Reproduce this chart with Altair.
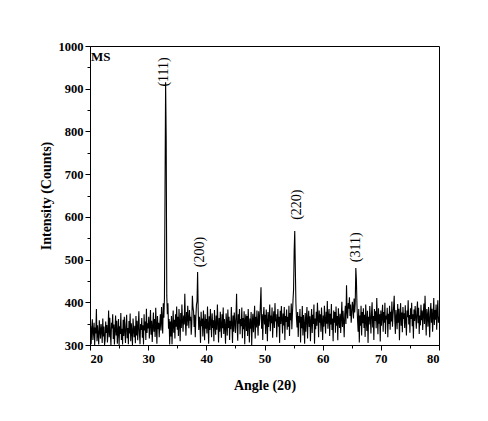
import altair as alt
import numpy as np
import pandas as pd

angle_start = 20.0
angle_step = 0.1

seg_20_30 = [
    318, 345, 302, 338, 360, 312, 331, 352, 300, 341,
    327, 384, 309, 346, 322, 301, 358, 334, 315, 349,
    336, 305, 362, 320, 343, 300, 311, 355, 328, 347,
    306, 333, 381, 318, 364, 325, 300, 352, 339, 372,
    314, 348, 301, 336, 369, 322, 357, 303, 330, 361,
    300, 344, 326, 375, 312, 338, 301, 359, 321, 366,
    333, 305, 348, 371, 316, 340, 302, 356, 327, 374,
    309, 351, 330, 300, 362, 336, 318, 345, 304, 368,
    322, 357, 311, 341, 379, 326, 302, 349, 335, 363,
    317, 346, 301, 372, 334, 355, 312, 385, 328, 351,
]
seg_30_40 = [
    339, 366, 315, 348, 382, 324, 357, 307, 343, 376,
    331, 361, 319, 387, 345, 303, 368, 337, 352, 318,
    349, 372, 334, 389, 356, 327, 398, 364, 410, 665,
    915, 780, 415, 372, 398, 338, 361, 301, 355, 320,
    368, 302, 347, 381, 329, 359, 315, 372, 343, 390,
    336, 366, 321, 384, 352, 309, 375, 340, 395, 357,
    331, 369, 348, 420, 355, 322, 377, 345, 392, 361,
    339, 382, 357, 366, 324, 350, 415, 388, 379, 342,
    371, 318, 364, 394, 402, 471, 383, 335, 366, 352,
    305, 378, 344, 362, 320, 381, 349, 311, 372, 338,
]
seg_40_50 = [
    361, 327, 390, 346, 303, 367, 335, 384, 351, 318,
    374, 340, 358, 309, 382, 347, 324, 369, 336, 395,
    352, 306, 363, 331, 378, 345, 317, 372, 339, 388,
    326, 361, 344, 303, 374, 351, 322, 383, 340, 366,
    312, 357, 337, 389, 348, 305, 369, 331, 376, 352,
    328, 366, 420, 341, 310, 372, 350, 384, 325, 361,
    344, 388, 316, 363, 337, 379, 302, 356, 372, 333,
    368, 321, 384, 349, 306, 362, 338, 377, 300, 351,
    373, 330, 358, 392, 315, 366, 341, 381, 352, 322,
    379, 345, 363, 398, 435, 338, 372, 312, 366, 389,
]
seg_50_60 = [
    348, 371, 326, 383, 355, 309, 377, 342, 364, 395,
    332, 369, 351, 388, 317, 360, 379, 340, 398, 355,
    372, 318, 357, 384, 343, 366, 305, 380, 349, 391,
    361, 327, 374, 346, 389, 312, 368, 354, 383, 336,
    366, 343, 392, 321, 375, 358, 397, 337, 372, 405,
    430, 520, 567, 480, 398, 362, 341, 377, 319, 368,
    352, 384, 306, 366, 339, 391, 322, 370, 348, 303,
    375, 331, 362, 389, 315, 358, 380, 342, 367, 309,
    355, 384, 328, 371, 349, 395, 303, 362, 337, 378,
    345, 399, 364, 318, 381, 352, 372, 331, 388, 356,
]
seg_60_70 = [
    312, 369, 343, 392, 359, 327, 378, 350, 403, 338,
    366, 384, 321, 373, 348, 396, 335, 362, 309, 381,
    352, 377, 329, 390, 345, 368, 311, 386, 357, 340,
    373, 328, 364, 401, 342, 380, 355, 318, 371, 392,
    349, 440, 378, 362, 398, 385, 412, 368, 395, 352,
    372, 401, 388, 362, 409, 376, 398, 480, 452, 392,
    358, 331, 384, 306, 369, 345, 392, 322, 377, 351,
    386, 340, 371, 319, 395, 357, 333, 380, 305, 366,
    348, 391, 362, 327, 375, 400, 341, 368, 312, 384,
    356, 379, 339, 410, 363, 325, 386, 350, 372, 308,
]
seg_70_80 = [
    381, 345, 368, 394, 331, 377, 352, 399, 326, 369,
    360, 387, 318, 373, 349, 392, 336, 378, 355, 402,
    343, 371, 390, 415, 358, 326, 382, 364, 337, 396,
    352, 385, 311, 369, 398, 345, 376, 330, 389, 361,
    374, 340, 393, 357, 322, 381, 365, 405, 348, 370,
    329, 386, 361, 399, 344, 372, 315, 383, 356, 391,
    365, 338, 378, 402, 351, 387, 326, 369, 346, 394,
    358, 381, 335, 373, 397, 349, 415, 366, 322, 384,
    370, 343, 389, 360, 318, 377, 398, 352, 385, 331,
    368, 410, 347, 382, 359, 395, 336, 374, 405, 352,
    366,
]

peak_labels = ["(111)", "(200)", "(220)", "(311)"]
label_angles = [32.7, 38.9, 55.6, 65.7]
label_counts = [905, 482, 593, 494]

sample_name = "MS"
x_ticks = [20, 30, 40, 50, 60, 70, 80]
x_minor = [25, 35, 45, 55, 65, 75]
y_ticks = [300, 400, 500, 600, 700, 800, 900, 1000]
y_minor = [350, 450, 550, 650, 750, 850, 950]

intensity = seg_20_30 + seg_30_40 + seg_40_50 + seg_50_60 + seg_60_70 + seg_70_80
angles = np.round(angle_start + angle_step * np.arange(len(intensity)), 2)
df = pd.DataFrame({"angle": angles, "intensity": intensity})
lab = pd.DataFrame({"label": peak_labels, "angle": label_angles, "count": label_counts})
ms = pd.DataFrame({"label": [sample_name], "angle": [x_ticks[0]], "count": [y_ticks[-1]]})

FONT = "Liberation Serif"
xs = alt.Scale(domain=[20, 80], nice=False, zero=False)
ys = alt.Scale(domain=[300, 1000], nice=False, zero=False)

common = dict(grid=False, domainColor="black", tickColor="black", labelColor="black",
              titleColor="black", labelFont=FONT, titleFont=FONT, labelFontSize=12.5,
              labelFontWeight="bold", titleFontWeight="bold", domainWidth=1, tickWidth=1,
              format="d")

main_x = alt.Axis(values=x_ticks, title="Angle (2θ)", tickSize=5, labelPadding=2,
                  titlePadding=14, titleFontSize=14, orient="bottom", **common)
main_y = alt.Axis(values=y_ticks, title="Intensity (Counts)", tickSize=5, labelPadding=2,
                  titlePadding=5, titleFontSize=14, orient="left", **common)
minor_x = alt.Axis(values=x_minor, labels=False, title=None, tickSize=3, domain=False,
                   orient="bottom", grid=False, tickColor="black", tickWidth=1)
minor_y = alt.Axis(values=y_minor, labels=False, title=None, tickSize=3, domain=False,
                   orient="left", grid=False, tickColor="black", tickWidth=1)

line = alt.Chart(df).mark_line(color="black", strokeWidth=1.1, clip=True).encode(
    x=alt.X("angle:Q", scale=xs, axis=main_x),
    y=alt.Y("intensity:Q", scale=ys, axis=main_y),
)
minor = alt.Chart(df).mark_line(opacity=0).encode(
    x=alt.X("angle:Q", scale=xs, axis=minor_x),
    y=alt.Y("intensity:Q", scale=ys, axis=minor_y),
)
texts = alt.Chart(lab).mark_text(angle=270, align="left", baseline="middle", font=FONT,
                                 fontSize=14, color="black").encode(
    x=alt.X("angle:Q", scale=xs, axis=None),
    y=alt.Y("count:Q", scale=ys, axis=None),
    text="label:N",
)
ms_text = alt.Chart(ms).mark_text(align="left", baseline="top", font=FONT, fontSize=13,
                                  fontWeight="bold", color="black", dx=1, dy=5).encode(
    x=alt.X("angle:Q", scale=xs, axis=None),
    y=alt.Y("count:Q", scale=ys, axis=None),
    text="label:N",
)

chart = alt.layer(line, minor, texts, ms_text).resolve_axis(
    x="independent", y="independent"
).properties(
    width=349, height=299,
    autosize=alt.AutoSizeParams(type="none"),
    padding={"left": 82, "top": 38, "right": 40, "bottom": 66},
).configure_view(
    stroke="black", strokeWidth=1
)

chart.save("out.html", embed_options={"renderer": "svg", "actions": False})
